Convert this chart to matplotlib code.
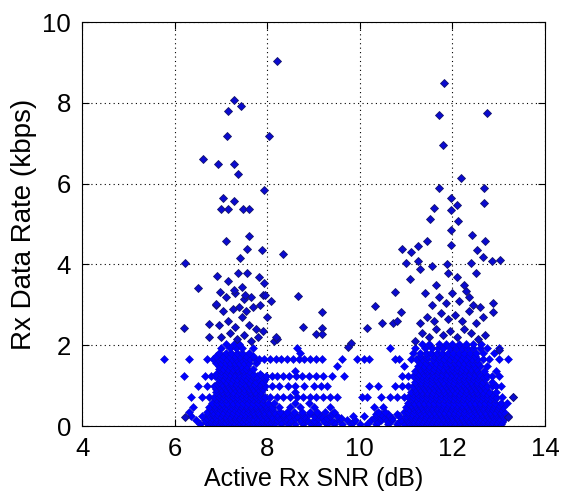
import numpy as np
import matplotlib.pyplot as plt

# rate levels (kbps) where the measurements pile up, and SNR (dB) of the points on each level
band_rate = [0.04, 0.09, 0.14, 0.20, 0.25, 0.31, 0.36, 0.42, 0.47, 0.53, 0.58, 0.66, 0.73, 0.79, 0.85, 0.92,
             0.98, 1.04, 1.10, 1.17, 1.23, 1.29, 1.36, 1.42, 1.48, 1.55, 1.66, 1.73, 1.80, 1.92, 2.02]
band_snr = [
    [6.55, 6.72, 6.83, 6.95, 7.05, 7.15, 7.27, 7.38, 7.48, 7.6, 7.7, 7.82, 7.93, 8.05, 8.15, 8.3, 8.45, 8.6, 8.78,
     8.95, 9.1, 9.3, 9.45, 9.62, 9.8, 10.0, 10.15, 10.35, 10.6, 10.8, 10.95, 11.08, 11.2, 11.3, 11.42, 11.52, 11.63,
     11.75, 11.85, 11.95, 12.06, 12.17, 12.28, 12.4, 12.5, 12.6, 12.72, 12.83, 12.93, 13.05],
    [6.68, 6.79, 6.88, 6.99, 7.08, 7.19, 7.28, 7.39, 7.48, 7.58, 7.69, 7.78, 7.88, 7.99, 8.08, 8.3, 8.5, 8.75,
     9.0, 9.25, 9.45, 9.85, 10.4, 10.6, 10.85,
     11.04, 11.15, 11.26, 11.35, 11.45, 11.56, 11.65, 11.75, 11.86, 11.95, 12.05, 12.16, 12.25, 12.35, 12.46,
     12.55, 12.65, 12.76, 12.85, 12.95, 13.06],
    [6.45, 6.65, 6.78, 6.9, 7.0, 7.12, 7.22, 7.33, 7.44, 7.55, 7.66, 7.77, 7.88, 7.98, 8.1, 8.22, 8.38, 8.52, 8.7,
     8.85, 9.02, 9.2, 9.38, 9.55, 9.72, 9.9, 10.25, 10.45, 10.7, 10.88, 11.02, 11.14, 11.25, 11.36, 11.47, 11.58,
     11.69, 11.8, 11.9, 12.0, 12.11, 12.22, 12.33, 12.45, 12.55, 12.66, 12.77, 12.88, 12.98, 13.1],
    [6.7, 6.8, 6.9, 7.0, 7.1, 7.2, 7.3, 7.4, 7.5, 7.6, 7.7, 7.8, 7.9, 8.0, 8.1, 8.25, 8.4, 8.6, 8.8, 9.1, 9.3,
     9.6, 10.3, 10.45, 10.55, 10.7, 11.0,
     11.1, 11.2, 11.3, 11.4, 11.5, 11.6, 11.7, 11.8, 11.9, 12.0, 12.1, 12.2, 12.3, 12.4, 12.5, 12.6, 12.7,
     12.8, 12.9, 13.0, 13.12],
    [6.35, 6.6, 6.75, 6.86, 6.97, 7.08, 7.19, 7.3, 7.41, 7.52, 7.63, 7.74, 7.85, 7.96, 8.07, 8.2, 8.35, 8.48, 8.65,
     8.8, 9.0, 9.15, 9.35, 9.5, 9.85, 10.1, 10.35, 10.5, 10.62, 10.85, 11.0, 11.1, 11.21, 11.32, 11.43, 11.54, 11.65,
     11.76, 11.87, 11.97, 12.08, 12.19, 12.3, 12.41, 12.52, 12.63, 12.74, 12.85, 12.95, 13.08, 13.2],
    [6.72, 6.83, 6.92, 7.03, 7.12, 7.23, 7.32, 7.43, 7.52, 7.63, 7.72, 7.83, 7.92, 8.03, 8.2, 8.35, 8.55, 8.75,
     8.9, 9.1, 9.4, 10.35, 10.45, 10.6, 10.8,
     11.03, 11.13, 11.24, 11.33, 11.44, 11.53, 11.64, 11.73, 11.84, 11.93, 12.04, 12.13, 12.24, 12.33, 12.44,
     12.53, 12.64, 12.73, 12.84, 12.93, 13.04],
    [6.3, 6.7, 6.82, 6.93, 7.04, 7.15, 7.26, 7.37, 7.48, 7.59, 7.7, 7.81, 7.92, 8.03, 8.15, 8.28, 8.42, 8.58, 8.75,
     8.92, 9.08, 9.25, 9.45, 10.4, 10.55, 10.95, 11.05, 11.16, 11.27, 11.38, 11.49, 11.6, 11.71, 11.82, 11.93, 12.04,
     12.15, 12.26, 12.37, 12.48, 12.59, 12.7, 12.81, 12.92, 13.02, 13.12],
    [6.78, 6.88, 6.98, 7.08, 7.18, 7.28, 7.38, 7.48, 7.58, 7.68, 7.78, 7.88, 7.98, 8.1, 11.06, 11.16, 11.26, 11.36,
     11.46, 11.56, 11.66, 11.76, 11.86, 11.96, 12.06, 12.16, 12.26, 12.36, 12.46, 12.56, 12.66, 12.76, 12.86,
     12.96, 13.05],
    [6.4, 6.75, 6.88, 7.0, 7.1, 7.21, 7.32, 7.43, 7.54, 7.65, 7.76, 7.87, 7.98, 8.1, 8.25, 8.5, 8.7, 9.0, 9.35,
     10.3, 10.5, 11.0, 11.12, 11.22, 11.33, 11.44, 11.55, 11.66, 11.77, 11.88, 11.99, 12.1, 12.21, 12.32, 12.43,
     12.54, 12.65, 12.76, 12.87, 12.98, 13.1],
    [6.85, 6.95, 7.05, 7.15, 7.25, 7.35, 7.45, 7.55, 7.65, 7.75, 7.85, 7.95, 11.1, 11.2, 11.3, 11.4, 11.5, 11.6,
     11.7, 11.8, 11.9, 12.0, 12.1, 12.2, 12.3, 12.4, 12.5, 12.6, 12.7, 12.8, 12.9, 13.0],
    [6.8, 6.92, 7.03, 7.14, 7.25, 7.36, 7.47, 7.58, 7.69, 7.8, 7.91, 8.02, 8.15, 8.6, 8.9, 11.05, 11.16, 11.27,
     11.38, 11.49, 11.6, 11.71, 11.82, 11.93, 12.04, 12.15, 12.26, 12.37, 12.48, 12.59, 12.7, 12.81, 12.92, 13.05, 13.18],
    [6.9, 7.0, 7.1, 7.2, 7.3, 7.4, 7.5, 7.6, 7.7, 7.8, 7.9, 11.12, 11.22, 11.32, 11.42, 11.52, 11.62, 11.72,
     11.82, 11.92, 12.02, 12.12, 12.22, 12.32, 12.42, 12.52, 12.62, 12.72, 12.82, 12.92],
    [6.35, 6.6, 6.75, 6.85, 6.95, 7.05, 7.15, 7.25, 7.35, 7.45, 7.55, 7.65, 7.75, 7.85, 7.95, 8.05, 8.2, 8.35, 8.5,
     8.65, 8.78, 8.92, 9.05, 9.2, 9.35, 9.5, 10.05, 10.15, 10.45, 10.65, 10.8, 10.95, 11.05, 11.15, 11.25, 11.35,
     11.45, 11.55, 11.65, 11.75, 11.85, 11.95, 12.05, 12.15, 12.25, 12.35, 12.45, 12.55, 12.65, 12.75, 12.85, 12.95,
     13.08, 13.3],
    [6.95, 7.05, 7.15, 7.25, 7.35, 7.45, 7.55, 7.65, 7.75, 7.85, 11.15, 11.25, 11.35, 11.45, 11.55, 11.65, 11.75,
     11.85, 11.95, 12.05, 12.15, 12.25, 12.35, 12.45, 12.55, 12.65, 12.75, 12.85],
    [6.9, 7.02, 7.14, 7.26, 7.38, 7.5, 7.62, 7.74, 7.86, 8.6, 11.1, 11.22, 11.34, 11.46, 11.58, 11.7, 11.82, 11.94,
     12.06, 12.18, 12.3, 12.42, 12.54, 12.66, 12.8, 12.95],
    [6.9, 7.0, 7.1, 7.2, 7.3, 7.4, 7.5, 7.6, 7.7, 7.8, 7.9, 11.2, 11.3, 11.4, 11.5, 11.6, 11.7, 11.8, 11.9,
     12.0, 12.1, 12.2, 12.3, 12.4, 12.5, 12.6, 12.7],
    [6.5, 6.7, 6.85, 6.95, 7.05, 7.15, 7.25, 7.35, 7.45, 7.55, 7.65, 7.75, 7.85, 7.95, 8.1, 8.25, 8.45, 8.6, 8.8,
     9.0, 9.15, 9.3, 10.2, 10.4, 10.75, 10.9, 11.05, 11.15, 11.25, 11.35, 11.45, 11.55, 11.65, 11.75, 11.85, 11.95,
     12.05, 12.15, 12.25, 12.35, 12.45, 12.55, 12.65, 12.75, 12.85, 12.95, 13.05],
    [6.92, 7.02, 7.12, 7.22, 7.32, 7.42, 7.52, 7.62, 7.72, 7.85, 11.22, 11.32, 11.42, 11.52, 11.62, 11.72, 11.82,
     11.92, 12.02, 12.12, 12.22, 12.32, 12.42, 12.52, 12.62],
    [6.95, 7.1, 7.22, 7.34, 7.46, 7.6, 7.75, 7.9, 11.2, 11.32, 11.44, 11.56, 11.68, 11.8, 11.92, 12.04, 12.16,
     12.28, 12.4, 12.52, 12.65, 12.85],
    [6.95, 7.05, 7.15, 7.25, 7.35, 7.45, 7.55, 7.65, 7.8, 7.95, 11.25, 11.35, 11.45, 11.55, 11.65, 11.75, 11.85,
     11.95, 12.05, 12.15, 12.25, 12.35, 12.45, 12.55, 12.7],
    [6.2, 6.65, 6.78, 6.88, 6.98, 7.08, 7.18, 7.28, 7.38, 7.48, 7.58, 7.68, 7.78, 7.88, 7.98, 8.1, 8.22, 8.35, 8.48,
     8.62, 8.75, 8.9, 9.05, 9.2, 9.4, 9.66, 10.9, 11.05, 11.15, 11.25, 11.35, 11.45, 11.55, 11.65, 11.75, 11.85,
     11.95, 12.05, 12.15, 12.25, 12.35, 12.45, 12.55, 12.65, 12.75, 12.85, 13.0],
    [6.9, 7.0, 7.1, 7.2, 7.3, 7.4, 7.5, 7.6, 7.7, 7.85, 11.28, 11.38, 11.48, 11.58, 11.68, 11.78, 11.88, 11.98,
     12.08, 12.18, 12.28, 12.38, 12.48, 12.58],
    [7.0, 7.12, 7.24, 7.36, 7.48, 7.6, 8.6, 11.2, 11.32, 11.44, 11.56, 11.68, 11.8, 11.92, 12.04, 12.16, 12.28,
     12.4, 12.52, 12.68, 12.95],
    [6.95, 7.05, 7.15, 7.25, 7.35, 7.45, 7.55, 7.7, 11.3, 11.4, 11.5, 11.6, 11.7, 11.8, 11.9, 12.0, 12.1, 12.2,
     12.3, 12.4, 12.5],
    [6.95, 7.08, 7.2, 7.32, 7.44, 7.56, 9.5, 10.95, 11.25, 11.38, 11.5, 11.62, 11.74, 11.86, 11.98, 12.1, 12.22,
     12.34, 12.46, 12.6, 12.75],
    [6.9, 7.0, 7.1, 7.2, 7.3, 7.4, 7.5, 7.6, 7.75, 11.3, 11.42, 11.55, 11.65, 11.75, 11.85, 11.95, 12.05, 12.15,
     12.25, 12.35, 12.45, 12.55],
    [5.76, 6.31, 6.7, 6.82, 6.93, 7.03, 7.13, 7.23, 7.33, 7.43, 7.53, 7.63, 7.73, 7.83, 7.93, 8.05, 8.18, 8.3, 8.42,
     8.55, 8.68, 8.8, 8.92, 9.05, 9.18, 9.62, 9.93, 10.1, 10.2, 10.75, 10.85, 11.1, 11.22, 11.34, 11.46, 11.58,
     11.7, 11.82, 11.94, 12.06, 12.18, 12.3, 12.42, 12.54, 12.66, 12.8, 13.0, 13.21],
    [6.9, 7.05, 7.18, 7.3, 7.42, 7.55, 7.7, 11.3, 11.45, 11.6, 11.72, 11.85, 11.98, 12.1, 12.22, 12.35, 12.48],
    [6.95, 7.1, 7.22, 7.34, 7.46, 7.6, 8.7, 11.15, 11.3, 11.42, 11.54, 11.66, 11.78, 11.9, 12.02, 12.14, 12.26,
     12.38, 12.5, 12.65, 12.9],
    [7.0, 7.2, 7.32, 7.45, 7.7, 8.65, 10.65, 11.2, 11.4, 11.55, 11.68, 11.8, 11.95, 12.08, 12.2, 12.32, 12.45,
     12.6, 12.75, 13.0],
    [7.1, 7.28, 7.4, 11.35, 11.5, 11.7, 11.85, 12.0, 12.15, 12.3, 12.45, 12.62],
]

# scattered points above the bands
scat_snr = [7.0, 7.2, 7.35, 7.5, 7.65, 7.8, 6.95, 7.15, 7.3, 7.45, 7.6, 7.75, 7.9, 8.0, 7.05, 7.25, 7.4, 7.55,
            7.7, 7.85, 6.9, 7.1, 7.3, 7.5, 7.65, 7.9, 8.15, 6.75, 8.2, 7.15, 7.45,
            11.2, 11.35, 11.5, 11.65, 11.8, 11.95, 12.1, 12.25, 12.4, 12.55, 12.7, 11.3, 11.45, 11.6, 11.75, 11.9,
            12.05, 12.2, 12.35, 12.5, 12.65, 11.55, 11.7, 11.85, 12.0, 12.15, 12.3, 12.45, 12.6, 11.4, 12.25,
            12.35, 11.65, 11.9, 12.1, 12.5, 11.3, 11.55, 11.1,
            8.22, 7.29, 7.44, 7.16, 7.12, 8.03, 6.62, 6.94, 7.29, 7.36, 7.94, 7.04, 7.29, 6.99, 7.16, 7.48, 7.61,
            7.10, 7.60, 7.57, 7.89, 8.35, 6.22, 7.42, 6.50, 6.92, 7.36, 7.57, 7.83, 7.94, 7.29, 6.98, 7.52, 7.95,
            8.67, 8.08, 6.90, 6.74, 9.19, 8.78, 9.05, 9.18, 9.18, 6.20, 8.19, 6.22, 9.8, 9.75,
            11.81, 12.74, 11.71, 11.80, 12.18, 12.68, 11.71, 12.68, 11.96, 12.09, 11.61, 11.96, 11.96, 11.52, 12.11,
            12.43, 12.71, 11.96, 11.45, 11.26, 10.91, 12.53, 12.85, 13.03, 10.99, 12.39, 12.65, 11.26, 11.88,
            11.08, 10.76, 10.32, 10.89, 10.48, 10.71, 10.81, 10.15, 12.88, 12.88, 13.0, 13.3, 13.21]
scat_rate = [2.2, 2.3, 2.15, 2.25, 2.1, 2.2, 2.5, 2.6, 2.45, 2.7, 2.5, 2.4, 2.35, 2.7, 2.85, 2.9, 2.95, 2.85,
             2.95, 3.0, 3.0, 3.2, 3.3, 3.15, 3.2, 3.25, 2.1, 2.2, 2.15, 3.6, 3.45,
             2.1, 2.3, 2.2, 2.4, 2.25, 2.35, 2.2, 2.4, 2.3, 2.15, 2.25, 2.55, 2.7, 2.6, 2.8, 2.65,
             2.75, 2.6, 2.85, 2.55, 2.7, 3.0, 3.2, 3.05, 3.3, 3.1, 3.35, 3.0, 2.95, 3.3, 3.5,
             3.2, 3.5, 3.8, 3.7, 3.8, 3.9, 3.95, 4.3,
             9.03, 8.08, 7.92, 7.79, 7.17, 7.17, 6.62, 6.50, 6.50, 6.23, 5.84, 5.64, 5.57, 5.38, 5.38, 5.38, 5.38,
             4.58, 4.70, 4.38, 4.37, 4.27, 4.04, 4.15, 3.43, 3.71, 3.79, 3.78, 3.69, 3.53, 3.36, 3.32, 3.24, 3.24,
             3.22, 3.10, 3.03, 2.52, 2.83, 2.46, 2.29, 2.42, 2.29, 2.42, 2.21, 0.23, 2.05, 1.95,
             8.50, 7.75, 7.69, 6.97, 6.13, 5.89, 5.89, 5.51, 5.64, 5.47, 5.41, 5.34, 4.85, 5.12, 5.07,
             4.74, 4.58, 4.48, 4.58, 4.45, 4.39, 4.37, 4.09, 4.11, 4.04, 4.04, 4.19, 4.09, 4.02,
             3.63, 3.32, 2.98, 2.83, 2.54, 2.54, 2.60, 2.42, 3.05, 2.83, 1.88, 0.73, 0.23]

band_x = np.concatenate([band_snr[i] for i in range(len(band_rate))])
band_y = np.concatenate([[band_rate[i]] * len(band_snr[i]) for i in range(len(band_rate))])

plt.rcParams['font.family'] = ['Liberation Sans', 'DejaVu Sans']
fig = plt.figure(figsize=(5.66, 5.03), dpi=100)
ax = fig.add_axes([0.145, 0.153, 0.818, 0.803])

# dense part looks plain blue, lone points show the dark rim
ax.plot(band_x, band_y, linestyle='none', marker='D', markersize=4.3,
        markerfacecolor='#0000ff', markeredgecolor='#0808c8', markeredgewidth=0.4)
ax.plot(scat_snr, scat_rate, linestyle='none', marker='D', markersize=4.3,
        markerfacecolor='#0a0ad0', markeredgecolor='#14146e', markeredgewidth=0.6)

ax.set_xlim(4, 14)
ax.set_ylim(0, 10)
ax.set_xticks(range(4, 15, 2))
ax.set_yticks(range(0, 11, 2))
ax.grid(True, color='black', linestyle=(0, (1, 3)), linewidth=0.8)
ax.tick_params(direction='in', top=True, right=True, labelsize=18.5, length=5, pad=8)
for s in ax.spines.values():
    s.set_linewidth(0.8)
ax.set_xlabel('Active Rx SNR (dB)', fontsize=18, labelpad=4)
ax.set_ylabel('Rx Data Rate (kbps)', fontsize=20, labelpad=4)

fig.savefig('out.png', dpi=100)
